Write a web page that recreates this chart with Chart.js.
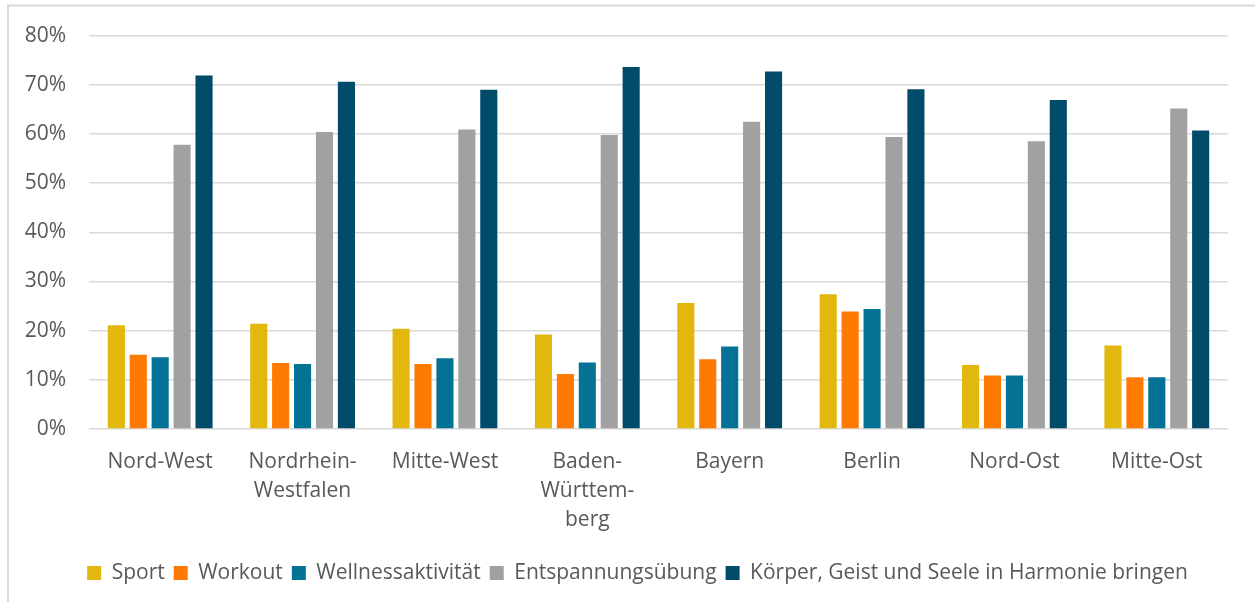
<!DOCTYPE html>
<html>
<head>
<meta charset="utf-8">
<script src="https://cdn.jsdelivr.net/npm/chart.js@4/dist/chart.umd.min.js"></script>
<style>
  html, body { margin: 0; padding: 0; background: #ffffff; }
  #wrap { position: absolute; left: 0; top: 0; width: 1255px; height: 602px; }
</style>
</head>
<body>
<div id="wrap"><canvas id="c" width="1255" height="602"></canvas></div>
<script>
const categories = ["Nord-West", ["Nordrhein-", "Westfalen"], "Mitte-West", ["Baden-", "Württem-", "berg"], "Bayern", "Berlin", "Nord-Ost", "Mitte-Ost"];
const seriesNames = ["Sport", "Workout", "Wellnessaktivität", "Entspannungsübung", "Körper, Geist und Seele in Harmonie bringen"];
const sport      = [21.1, 21.4, 20.4, 19.2, 25.6, 27.4, 13.0, 17.0];
const workout    = [15.1, 13.4, 13.2, 11.2, 14.2, 23.9, 10.9, 10.5];
const wellness   = [14.6, 13.2, 14.4, 13.5, 16.8, 24.4, 10.9, 10.5];
const entspannung= [57.8, 60.4, 60.9, 59.8, 62.5, 59.4, 58.5, 65.2];
const harmonie   = [71.9, 70.6, 69.0, 73.6, 72.7, 69.1, 66.9, 60.7];
const yTicks = [0, 10, 20, 30, 40, 50, 60, 70, 80];
const colors = ["#E2B80F", "#FF7A00", "#037294", "#A1A1A1", "#004B69"];

const seriesValues = [sport, workout, wellness, entspannung, harmonie];
const FONT = "'Open Sans', 'Noto Sans', sans-serif";
const TEXT = "#595959";

const framePlugin = {
  id: 'frame',
  beforeDraw(chart) {
    const ctx = chart.ctx;
    ctx.save();
    ctx.strokeStyle = '#d9d9d9';
    ctx.lineWidth = 2;
    ctx.beginPath();
    ctx.moveTo(8, 602);
    ctx.lineTo(8, 5.5);
    ctx.lineTo(1255, 5.5);
    ctx.stroke();
    ctx.restore();
  }
};

// shift the legend block so it is centred like in the reference
const legendShift = {
  id: 'legendShift',
  afterLayout(chart) {
    const lg = chart.legend;
    if (lg) { lg.left += 23.5; lg.right += 23.5; }
  }
};

new Chart(document.getElementById('c'), {
  type: 'bar',
  data: {
    labels: categories,
    datasets: seriesNames.map((n, i) => ({
      label: n,
      data: seriesValues[i],
      backgroundColor: colors[i],
      borderWidth: 0,
      categoryPercentage: 0.77,
      barPercentage: 0.78
    }))
  },
  options: {
    responsive: false,
    animation: false,
    devicePixelRatio: 1,
    layout: { padding: { left: 0, right: 27, top: 34, bottom: 8.5 } },
    plugins: {
      tooltip: { enabled: false },
      legend: {
        position: 'bottom',
        labels: {
          font: { family: FONT, size: 21 },
          color: TEXT,
          boxWidth: 14,
          boxHeight: 14,
          padding: 9
        }
      }
    },
    scales: {
      x: {
        afterFit(scale) { scale.height = 124.5; },
        grid: { display: false, drawTicks: false },
        border: { display: false },
        ticks: {
          font: { family: FONT, size: 21, lineHeight: 1.4 },
          color: TEXT,
          padding: 18,
          maxRotation: 0,
          autoSkip: false
        }
      },
      y: {
        min: 0,
        max: 80,
        afterFit(scale) { scale.width = 89; },
        afterBuildTicks(scale) { scale.ticks = yTicks.map(v => ({ value: v })); },
        grid: { color: '#d9d9d9', lineWidth: 1.5, drawTicks: false },
        border: { display: false },
        ticks: {
          font: { family: FONT, size: 21 },
          color: TEXT,
          padding: 23,
          callback: v => v + '%'
        }
      }
    }
  },
  plugins: [framePlugin, legendShift]
});
</script>
</body>
</html>
